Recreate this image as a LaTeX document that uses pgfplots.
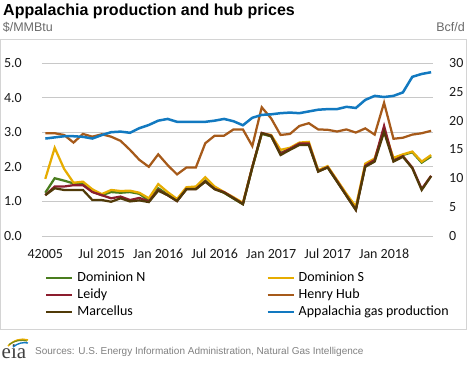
\documentclass[border=0pt]{standalone}
\usepackage{pgfplots}
\usepackage{pgfplotstable}
\pgfplotsset{compat=1.18}
\usepackage{fontspec}
\setmainfont{Carlito}
\newfontfamily\arial{Liberation Sans}
\newfontfamily\eiaserif{Liberation Serif}
\definecolor{domN}{HTML}{4A7D1E}
\definecolor{domS}{HTML}{E6AC00}
\definecolor{leidy}{HTML}{8C1D2E}
\definecolor{hh}{HTML}{A65A1A}
\definecolor{marc}{HTML}{503A08}
\definecolor{app}{HTML}{1279C0}
\definecolor{gridc}{HTML}{C8C8C8}
\definecolor{boxc}{HTML}{D4D4D4}
\definecolor{unitc}{HTML}{6A6A6A}
\definecolor{srcc}{HTML}{808080}
\definecolor{tickc}{HTML}{1A1A1A}
\pgfplotstableread{
i dn ds le hh ma ap
0 1.25 1.65 1.18 2.97 1.18 16.9
1 1.67 2.55 1.43 2.97 1.38 17.1
2 1.60 1.94 1.43 2.92 1.33 17.3
3 1.52 1.54 1.47 2.70 1.33 17.3
4 1.52 1.57 1.47 2.95 1.33 17.2
5 1.28 1.35 1.27 2.87 1.04 16.9
6 1.18 1.21 1.18 2.94 1.04 17.5
7 1.27 1.33 1.09 2.87 0.99 18.0
8 1.25 1.30 1.14 2.75 1.09 18.1
9 1.27 1.31 1.04 2.49 1.00 17.9
10 1.22 1.25 1.10 2.20 1.03 18.7
11 1.02 1.09 1.00 2.00 0.98 19.25
12 1.38 1.50 1.33 2.36 1.31 20.0
13 1.20 1.27 1.18 2.05 1.18 20.3
14 1.02 1.07 1.01 1.78 1.01 19.8
15 1.36 1.41 1.36 1.98 1.35 19.8
16 1.37 1.43 1.36 1.98 1.35 19.8
17 1.60 1.70 1.58 2.68 1.57 19.8
18 1.38 1.43 1.36 2.90 1.35 20.0
19 1.25 1.27 1.27 2.90 1.25 20.3
20 1.08 1.12 1.10 3.08 1.09 19.9
21 0.92 0.96 0.93 3.08 0.92 19.2
22 1.98 2.00 2.00 2.60 1.98 20.5
23 2.95 2.97 2.98 3.72 2.97 21.0
24 2.88 2.92 2.90 3.40 2.89 21.1
25 2.40 2.49 2.38 2.92 2.34 21.3
26 2.52 2.55 2.52 2.95 2.49 21.4
27 2.66 2.70 2.67 3.18 2.63 21.3
28 2.68 2.72 2.67 3.26 2.63 21.6
29 1.88 1.90 1.87 3.08 1.86 21.9
30 1.99 2.02 1.99 3.07 1.98 22.0
31 1.59 1.62 1.59 3.02 1.57 22.0
32 1.18 1.22 1.17 3.08 1.16 22.4
33 0.78 0.85 0.76 2.99 0.75 22.2
34 2.03 2.09 2.03 3.11 2.00 23.6
35 2.20 2.24 2.20 2.93 2.15 24.3
36 3.05 3.08 3.18 3.85 3.01 24.1
37 2.22 2.26 2.17 2.81 2.15 24.3
38 2.34 2.36 2.31 2.84 2.29 24.9
39 2.42 2.44 1.98 2.93 1.96 27.6
40 2.12 2.15 1.36 2.97 1.33 28.1
41 2.30 2.34 1.74 3.04 1.73 28.4
}\data
\begin{document}
\begin{tikzpicture}
\path[use as bounding box] (-42bp,-130bp) rectangle (426bp,236bp);
\draw[boxc, line width=1bp] (-41bp,-93bp) rectangle (424bp,196bp);
\node[anchor=base west, inner sep=0pt, font=\arial\bfseries\fontsize{16bp}{18bp}\selectfont] at (-39bp,220.5bp) {Appalachia production and hub prices};
\node[anchor=base west, inner sep=0pt, text=unitc, font=\arial\fontsize{12.5bp}{14bp}\selectfont] at (-39.3bp,204.3bp) {\$/MMBtu};
\node[anchor=base east, inner sep=0pt, text=unitc, font=\arial\fontsize{12.5bp}{14bp}\selectfont] at (423bp,204.3bp) {Bcf/d};
\node[anchor=base west, inner sep=0pt, text=srcc, font=\arial\fontsize{10bp}{12bp}\selectfont] at (-7bp,-118.7bp) {Sources: U.S. Energy Information Administration, Natural Gas Intelligence};
\node[anchor=base west, inner sep=0pt, text=black!75, font=\eiaserif\fontsize{21bp}{22bp}\selectfont] at (-40.5bp,-122bp) {eia};
\draw[line width=1.6bp, color=domS] (-34bp,-110bp) .. controls (-28bp,-104bp) and (-21bp,-102bp) .. (-14bp,-104bp);
\draw[line width=1.2bp, color=domN!70!domS] (-33bp,-108.5bp) .. controls (-27bp,-104.5bp) and (-21bp,-103.5bp) .. (-15bp,-105bp);
\draw[line width=1.4bp, color=app] (-29bp,-111bp) .. controls (-24bp,-107bp) and (-19bp,-106bp) .. (-14bp,-107bp);
\begin{axis}[
  at={(0,0)}, anchor=south west, scale only axis,
  width=391bp, height=173bp,
  xmin=-0.35, xmax=41.2, ymin=0, ymax=5,
  axis y line*=left, axis x line*=bottom,
  axis line style={draw=none},
  major tick length=0,
  ymajorgrids, grid style={gridc, line width=1bp},
  ytick={0,1,2,3,4,5},
  yticklabels={0.0,1.0,2.0,3.0,4.0,5.0},
  xtick={0,6,12,18,24,30,36},
  xticklabels={42005,Jul 2015,Jan 2016,Jul 2016,Jan 2017,Jul 2017,Jan 2018},
  /pgf/number format/assume math mode=true,
  ticklabel style={font=\fontsize{14bp}{16bp}\selectfont, text=tickc},
  yticklabel style={anchor=east, inner sep=0pt, xshift=-20bp},
  xticklabel style={anchor=north, inner sep=0pt, yshift=-13bp},
  legend columns=2,
  legend cell align=left,
  legend style={at={(axis description cs:0,0)}, anchor=north west, xshift=3bp, yshift=-34bp,
    draw=none, fill=none, inner sep=0pt, row sep=2bp,
    font=\fontsize{14bp}{17bp}\selectfont,
    nodes={inner sep=0pt, text height=11bp, text depth=4bp},
    /tikz/every odd column/.append style={column sep=4bp},
    /tikz/every even column/.append style={column sep=0bp}},
  legend image code/.code={\draw[#1] (0bp,0bp) -- (26bp,0bp);},
]
\addplot[domN, line width=2.25bp] table[x=i,y=dn]{\data};
\addlegendentry{\makebox[189bp][l]{Dominion N}}
\addplot[domS, line width=2.25bp] table[x=i,y=ds]{\data};
\addlegendentry{Dominion S}
\addplot[leidy, line width=2.25bp] table[x=i,y=le]{\data};
\addlegendentry{\makebox[189bp][l]{Leidy}}
\addplot[hh, line width=2.25bp] table[x=i,y=hh]{\data};
\addlegendentry{Henry Hub}
\addplot[marc, line width=2.25bp] table[x=i,y=ma]{\data};
\addlegendentry{\makebox[189bp][l]{Marcellus}}
\addlegendimage{app, line width=2.25bp}
\addlegendentry{Appalachia gas production}
\end{axis}
\begin{axis}[
  at={(0,0)}, anchor=south west, scale only axis,
  width=391bp, height=173bp,
  xmin=-0.35, xmax=41.2, ymin=0, ymax=30,
  axis y line*=right, axis x line=none,
  axis line style={draw=none},
  major tick length=0,
  ytick={0,5,10,15,20,25,30},
  yticklabels={0,5,10,15,20,25,30},
  /pgf/number format/assume math mode=true,
  ticklabel style={font=\fontsize{14bp}{16bp}\selectfont, text=tickc},
  yticklabel style={anchor=west, inner sep=0pt, xshift=16bp},
]
\addplot[app, line width=2.5bp] table[x=i,y=ap]{\data};
\end{axis}
\end{tikzpicture}
\end{document}
